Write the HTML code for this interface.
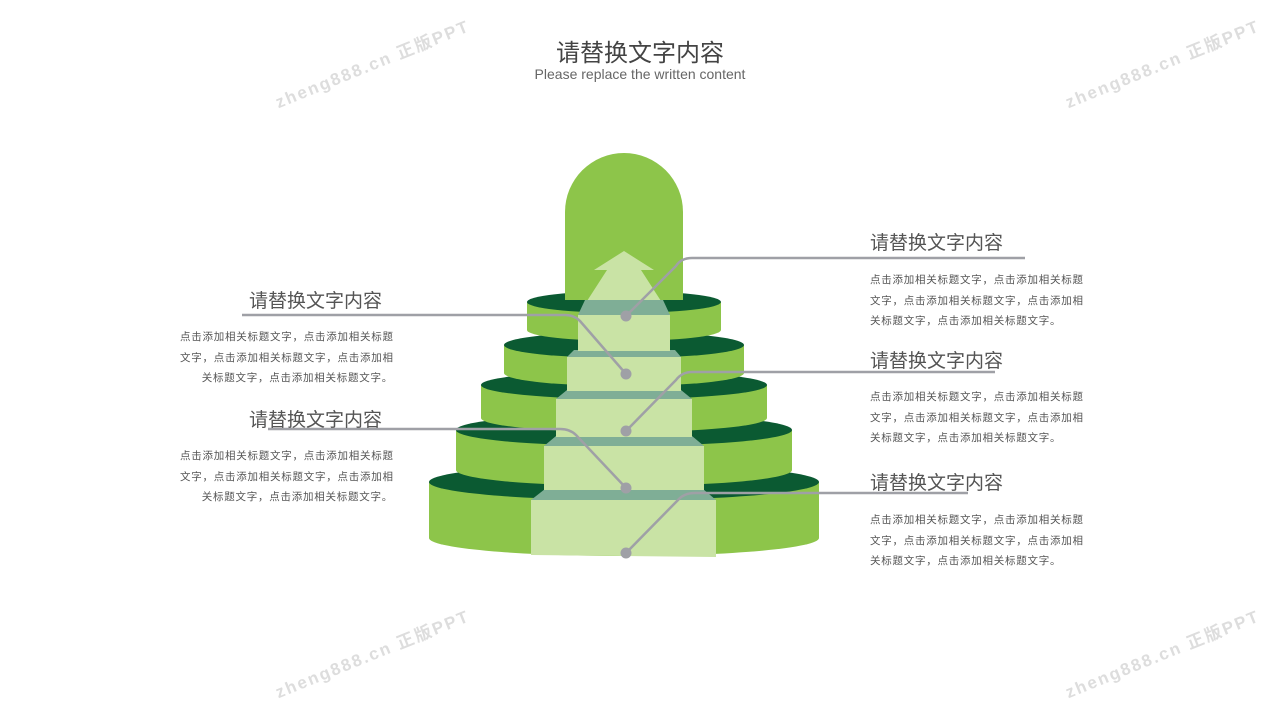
<!DOCTYPE html>
<html><head><meta charset="utf-8"><style>
body{margin:0;width:1280px;height:720px;background:#fff;overflow:hidden;position:relative;font-family:"Liberation Sans","Noto Sans CJK SC",sans-serif}
.t{position:absolute;white-space:nowrap}
.h{font-size:19px;color:#555}
.p{font-size:10.5px;color:#555;line-height:20.7px;letter-spacing:0.75px}
.r{text-align:right;width:213px}
.w{position:absolute;font-size:17px;color:#ddd;font-weight:bold;transform:rotate(-22deg);letter-spacing:2px;white-space:nowrap}
</style></head><body>
<div class="w" style="left:268px;top:50px">zheng888.cn 正版PPT</div>
<div class="w" style="left:1058px;top:50px">zheng888.cn 正版PPT</div>
<div class="w" style="left:268px;top:640px">zheng888.cn 正版PPT</div>
<div class="w" style="left:1058px;top:640px">zheng888.cn 正版PPT</div>
<div class="t" style="left:0;width:1280px;text-align:center;top:33px;font-size:24px;color:#444">请替换文字内容</div>
<div class="t" style="left:0;width:1280px;text-align:center;top:66px;font-size:14px;color:#666">Please replace the written content</div>
<svg width="1280" height="720" style="position:absolute;left:0;top:0">
<g>
<path d="M429,482 L429,538 A195,18 0 0 0 819,538 L819,482 Z" fill="#8dc54a"/><ellipse cx="624" cy="482" rx="195" ry="18" fill="#0b5a32"/>
<polygon points="531,500 716,500 716,557 531,555" fill="#c9e3a5"/><polygon points="545,489 703,489 716,500 531,500" fill="#7fae96"/>
<path d="M456,430 L456,470 A168,16 0 0 0 792,470 L792,430 Z" fill="#8dc54a"/><ellipse cx="624" cy="430" rx="168" ry="16" fill="#0b5a32"/>
<polygon points="544,446 704,446 704,490 544,490" fill="#c9e3a5"/><polygon points="556,436 692,436 704,446 544,446" fill="#7fae96"/>
<path d="M481,385 L481,418 A143,14 0 0 0 767,418 L767,385 Z" fill="#8dc54a"/><ellipse cx="624" cy="385" rx="143" ry="14" fill="#0b5a32"/>
<polygon points="556,399 692,399 692,437 556,437" fill="#c9e3a5"/><polygon points="567,390 681,390 692,399 556,399" fill="#7fae96"/>
<path d="M504,345 L504,373 A120,13 0 0 0 744,373 L744,345 Z" fill="#8dc54a"/><ellipse cx="624" cy="345" rx="120" ry="13" fill="#0b5a32"/>
<polygon points="567,357 681,357 681,391 567,391" fill="#c9e3a5"/><polygon points="574,350 675,350 681,357 567,357" fill="#7fae96"/>
<path d="M527,302 L527,330 A97,11 0 0 0 721,330 L721,302 Z" fill="#8dc54a"/><ellipse cx="624" cy="302" rx="97" ry="11" fill="#0b5a32"/>
<polygon points="578,315 670,315 670,351 578,351" fill="#c9e3a5"/>
<path d="M565,300 L565,212 A59,59 0 0 1 683,212 L683,300 Z" fill="#8dc54a"/>
<polygon points="578,315 607,270 594,270 624,251 654,270 641,270 670,315" fill="#c9e3a5"/>
<polygon points="585,300 663,300 670,315 578,315" fill="#7fae96"/>
</g>
<g fill="none" stroke="#9fa0a6" stroke-width="2.5">
<path d="M626,316 L676,266 Q681,258 692,258 L1025,258"/>
<path d="M242,315 L565,315 Q574,315 580,321 L626,374"/>
<path d="M626,431 L676,380 Q682,372 692,372 L995,372"/>
<path d="M268,429 L560,429 Q570,429 576,435 L626,488"/>
<path d="M626,553 L678,500 Q684,493 695,493 L968,493"/>
</g>
<g fill="#9fa0a6"><circle cx="626" cy="316" r="5.5"/><circle cx="626" cy="374" r="5.5"/><circle cx="626" cy="431" r="5.5"/><circle cx="626" cy="488" r="5.5"/><circle cx="626" cy="553" r="5.5"/></g>
</svg>
<div class="t h" style="left:870px;top:228px">请替换文字内容</div>
<div class="t p" style="left:870px;top:270px">点击添加相关标题文字，点击添加相关标题<br>文字，点击添加相关标题文字，点击添加相<br>关标题文字，点击添加相关标题文字。</div>
<div class="t h" style="left:870px;top:346px">请替换文字内容</div>
<div class="t p" style="left:870px;top:387px">点击添加相关标题文字，点击添加相关标题<br>文字，点击添加相关标题文字，点击添加相<br>关标题文字，点击添加相关标题文字。</div>
<div class="t h" style="left:870px;top:468px">请替换文字内容</div>
<div class="t p" style="left:870px;top:510px">点击添加相关标题文字，点击添加相关标题<br>文字，点击添加相关标题文字，点击添加相<br>关标题文字，点击添加相关标题文字。</div>
<div class="t h" style="left:249px;top:286px">请替换文字内容</div>
<div class="t p r" style="left:180px;top:327px">点击添加相关标题文字，点击添加相关标题<br>文字，点击添加相关标题文字，点击添加相<br>关标题文字，点击添加相关标题文字。</div>
<div class="t h" style="left:249px;top:405px">请替换文字内容</div>
<div class="t p r" style="left:180px;top:446px">点击添加相关标题文字，点击添加相关标题<br>文字，点击添加相关标题文字，点击添加相<br>关标题文字，点击添加相关标题文字。</div>
</body></html>
